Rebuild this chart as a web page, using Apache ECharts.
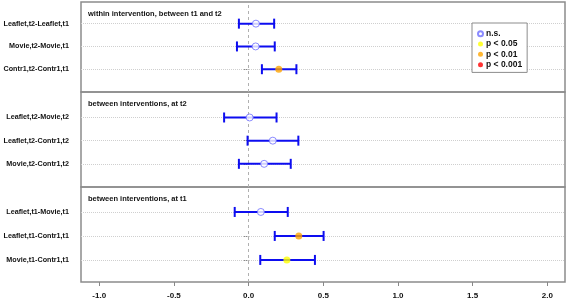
<!DOCTYPE html>
<html>
<head>
<meta charset="utf-8">
<script src="https://cdn.jsdelivr.net/npm/echarts@6/dist/echarts.min.js"></script>
<style>
  html, body { margin: 0; padding: 0; background: #fff; }
  #chart { width: 567px; height: 301px; }
</style>
</head>
<body>
<div id="chart"></div>
<script>
  // panel texts and row labels (top row first)
  const panelTitles = [
    'within intervention, between t1 and t2',
    'between interventions, at t2',
    'between interventions, at t1'
  ];
  const rowLabels = [
    ['Leaflet,t2-Leaflet,t1', 'Movie,t2-Movie,t1', 'Contr1,t2-Contr1,t1'],
    ['Leaflet,t2-Movie,t2', 'Leaflet,t2-Contr1,t2', 'Movie,t2-Contr1,t2'],
    ['Leaflet,t1-Movie,t1', 'Leaflet,t1-Contr1,t1', 'Movie,t1-Contr1,t1']
  ];
  const estimates = [
    [0.049, 0.047, 0.202],
    [0.007, 0.162, 0.104],
    [0.082, 0.336, 0.256]
  ];
  const lowerCI = [
    [-0.065, -0.078, 0.089],
    [-0.164, -0.007, -0.065],
    [-0.093, 0.175, 0.078]
  ];
  const upperCI = [
    [0.171, 0.175, 0.320],
    [0.187, 0.333, 0.282],
    [0.262, 0.502, 0.444]
  ];
  const significance = [
    ['n.s.', 'n.s.', 'p < 0.01'],
    ['n.s.', 'n.s.', 'n.s.'],
    ['n.s.', 'p < 0.01', 'p < 0.05']
  ];
  const sigClasses = ['n.s.', 'p < 0.05', 'p < 0.01', 'p < 0.001'];
  const xTickValues = [-1, -0.5, 0, 0.5, 1, 1.5, 2];

  const font = "'Liberation Sans', Arial, sans-serif";
  const sigStyle = {
    'n.s.': { color: '#ffffff', borderColor: '#6e6eff', borderWidth: 1 },
    'p < 0.05': { color: '#ffff00', borderWidth: 0 },
    'p < 0.01': { color: '#ffa500', borderWidth: 0 },
    'p < 0.001': { color: '#ff0000', borderWidth: 0 }
  };

  const panelTops = [2, 92, 187];
  const panelHeights = [90, 95, 95];
  const yRanges = [[0, 3.95], [0, 4.1], [0.08, 4.04]];

  let dom = document.getElementById('chart');
  let myChart = echarts.init(dom);

  let grids = [], xAxes = [], yAxes = [], series = [], titles = [];

  for (let i = 0; i < 3; i++) {
    grids.push({
      left: 81, right: 2, top: panelTops[i], height: panelHeights[i],
      outerBoundsMode: 'none',
      show: true, borderColor: '#8c8c8c', borderWidth: 1.5, backgroundColor: 'transparent'
    });
    titles.push({
      text: panelTitles[i], left: 83, top: panelTops[i] + 3,
      textStyle: { fontSize: 7.5, fontWeight: 'bold', color: '#111', fontFamily: font }
    });
    xAxes.push({
      gridIndex: i, type: 'value', min: -1.122, max: 2.118,
      axisLine: { show: false },
      splitLine: { show: false },
      axisTick: { show: i === 2, customValues: xTickValues, length: 4, lineStyle: { color: '#888' } },
      axisLabel: {
        show: i === 2, customValues: xTickValues, margin: 10,
        formatter: v => v.toFixed(1),
        fontSize: 8, fontWeight: 'bold', color: '#111', fontFamily: font
      }
    });
    yAxes.push({
      gridIndex: i, type: 'value', min: yRanges[i][0], max: yRanges[i][1],
      axisLine: { show: false },
      splitLine: { show: false },
      axisTick: { show: true, customValues: [1, 2, 3], length: 5, lineStyle: { color: '#888' } },
      axisLabel: {
        customValues: [1, 2, 3], margin: 12,
        formatter: v => rowLabels[i][3 - v] || '',
        fontSize: 7.2, fontWeight: 'bold', color: '#111', fontFamily: font
      }
    });

    // reference lines (behind everything)
    series.push({
      type: 'line', xAxisIndex: i, yAxisIndex: i, data: [], z: 1, silent: true,
      markLine: {
        z: 1, silent: true, symbol: 'none', label: { show: false }, animation: false,
        data: [
          { yAxis: 1, lineStyle: { color: '#cfcfcf', type: 'dotted', width: 1 } },
          { yAxis: 2, lineStyle: { color: '#cfcfcf', type: 'dotted', width: 1 } },
          { yAxis: 3, lineStyle: { color: '#cfcfcf', type: 'dotted', width: 1 } },
          { xAxis: 0, lineStyle: { color: '#b0b0b0', type: [3, 3], width: 1 } }
        ]
      }
    });

    // confidence intervals
    series.push({
      type: 'custom', xAxisIndex: i, yAxisIndex: i, z: 3, silent: true,
      data: rowLabels[i].map((_, j) => [lowerCI[i][j], upperCI[i][j], 3 - j]),
      encode: { x: [0, 1], y: 2 },
      renderItem: function (params, api) {
        let lo = api.coord([api.value(0), api.value(2)]);
        let hi = api.coord([api.value(1), api.value(2)]);
        let h = 5;
        let style = { stroke: '#0d0df0', lineWidth: 2 };
        return {
          type: 'group',
          children: [
            { type: 'line', shape: { x1: lo[0], y1: lo[1], x2: hi[0], y2: hi[1] }, style: style },
            { type: 'line', shape: { x1: lo[0], y1: lo[1] - h, x2: lo[0], y2: lo[1] + h }, style: style },
            { type: 'line', shape: { x1: hi[0], y1: hi[1] - h, x2: hi[0], y2: hi[1] + h }, style: style }
          ]
        };
      }
    });

    // point estimates, one series per significance class
    sigClasses.forEach(cls => {
      let pts = [];
      rowLabels[i].forEach((_, j) => {
        if (significance[i][j] === cls) pts.push([estimates[i][j], 3 - j]);
      });
      series.push({
        name: cls, type: 'scatter', xAxisIndex: i, yAxisIndex: i, z: 4,
        symbol: 'circle', symbolSize: 7, data: pts,
        itemStyle: sigStyle[cls]
      });
    });
  }

  let option = {
    animation: false,
    backgroundColor: '#fff',
    title: titles,
    grid: grids,
    xAxis: xAxes,
    yAxis: yAxes,
    legend: {
      data: sigClasses.map(n => ({ name: n, icon: 'circle' })),
      orient: 'vertical', left: 472, top: 23,
      itemWidth: 5, itemHeight: 5, itemGap: 0.8,
      padding: [6, 5, 3, 5],
      borderColor: '#8c8c8c', borderWidth: 1, backgroundColor: '#fff',
      selectedMode: false,
      textStyle: { fontSize: 8.5, fontWeight: 'bold', color: '#111', fontFamily: font, lineHeight: 9.5, padding: [0, 0, 0, -2] }
    },
    series: series
  };
  myChart.setOption(option, true);
</script>
</body>
</html>
